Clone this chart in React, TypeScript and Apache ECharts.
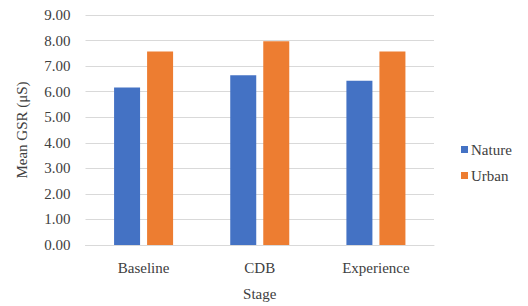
import React, { useEffect, useRef } from "react";
import * as echarts from "echarts";

const categories = ["Baseline", "CDB", "Experience"];
const natureValues = [6.16, 6.64, 6.43];
const urbanValues = [7.57, 7.97, 7.57];
const seriesNames = ["Nature", "Urban"];
const colors = ["#4472C4", "#ED7D31"];

const FONT = "serif";
const TEXT = "#404040";

export default function App() {
  const ref = useRef<HTMLDivElement>(null);
  useEffect(() => {
    if (!ref.current) return;
    const chart = echarts.init(ref.current, null, { renderer: "svg" });
    chart.setOption({
      animation: false,
      textStyle: { fontFamily: FONT },
      grid: { left: 85.5, right: 94, top: 15, bottom: 58 },
      legend: {
        orient: "vertical",
        left: 456,
        top: 137,
        itemWidth: 7,
        itemHeight: 7,
        itemGap: 11,
        icon: "rect",
        textStyle: { fontFamily: FONT, fontSize: 15, color: TEXT, padding: [0, 0, 0, -2] },
        data: seriesNames,
      },
      xAxis: {
        type: "category",
        data: categories,
        name: "Stage",
        nameLocation: "middle",
        nameGap: 41,
        nameTextStyle: { fontFamily: FONT, fontSize: 15, color: TEXT },
        axisLine: { lineStyle: { color: "#d9d9d9" } },
        axisTick: { show: false },
        axisLabel: { fontFamily: FONT, fontSize: 15, color: TEXT, margin: 15 },
      },
      yAxis: {
        type: "value",
        min: 0,
        max: 9,
        interval: 1,
        name: "Mean GSR (μS)",
        nameLocation: "middle",
        nameGap: 56,
        nameRotate: 90,
        nameTextStyle: { fontFamily: FONT, fontSize: 15, color: TEXT },
        axisLine: { show: false },
        axisTick: { show: false },
        splitLine: { lineStyle: { color: "#d9d9d9" } },
        axisLabel: {
          fontFamily: FONT,
          fontSize: 15,
          color: TEXT,
          margin: 15,
          formatter: (v: number) => v.toFixed(2),
        },
      },
      series: [
        {
          name: seriesNames[0],
          type: "bar",
          data: natureValues,
          barWidth: 26,
          barGap: "27%",
          itemStyle: { color: colors[0] },
        },
        {
          name: seriesNames[1],
          type: "bar",
          data: urbanValues,
          barWidth: 26,
          barGap: "27%",
          itemStyle: { color: colors[1] },
        },
      ],
    });
    return () => chart.dispose();
  }, []);
  return (
    <div
      ref={ref}
      style={{ position: "absolute", left: 0, top: 0, width: 528, height: 306 }}
    />
  );
}
